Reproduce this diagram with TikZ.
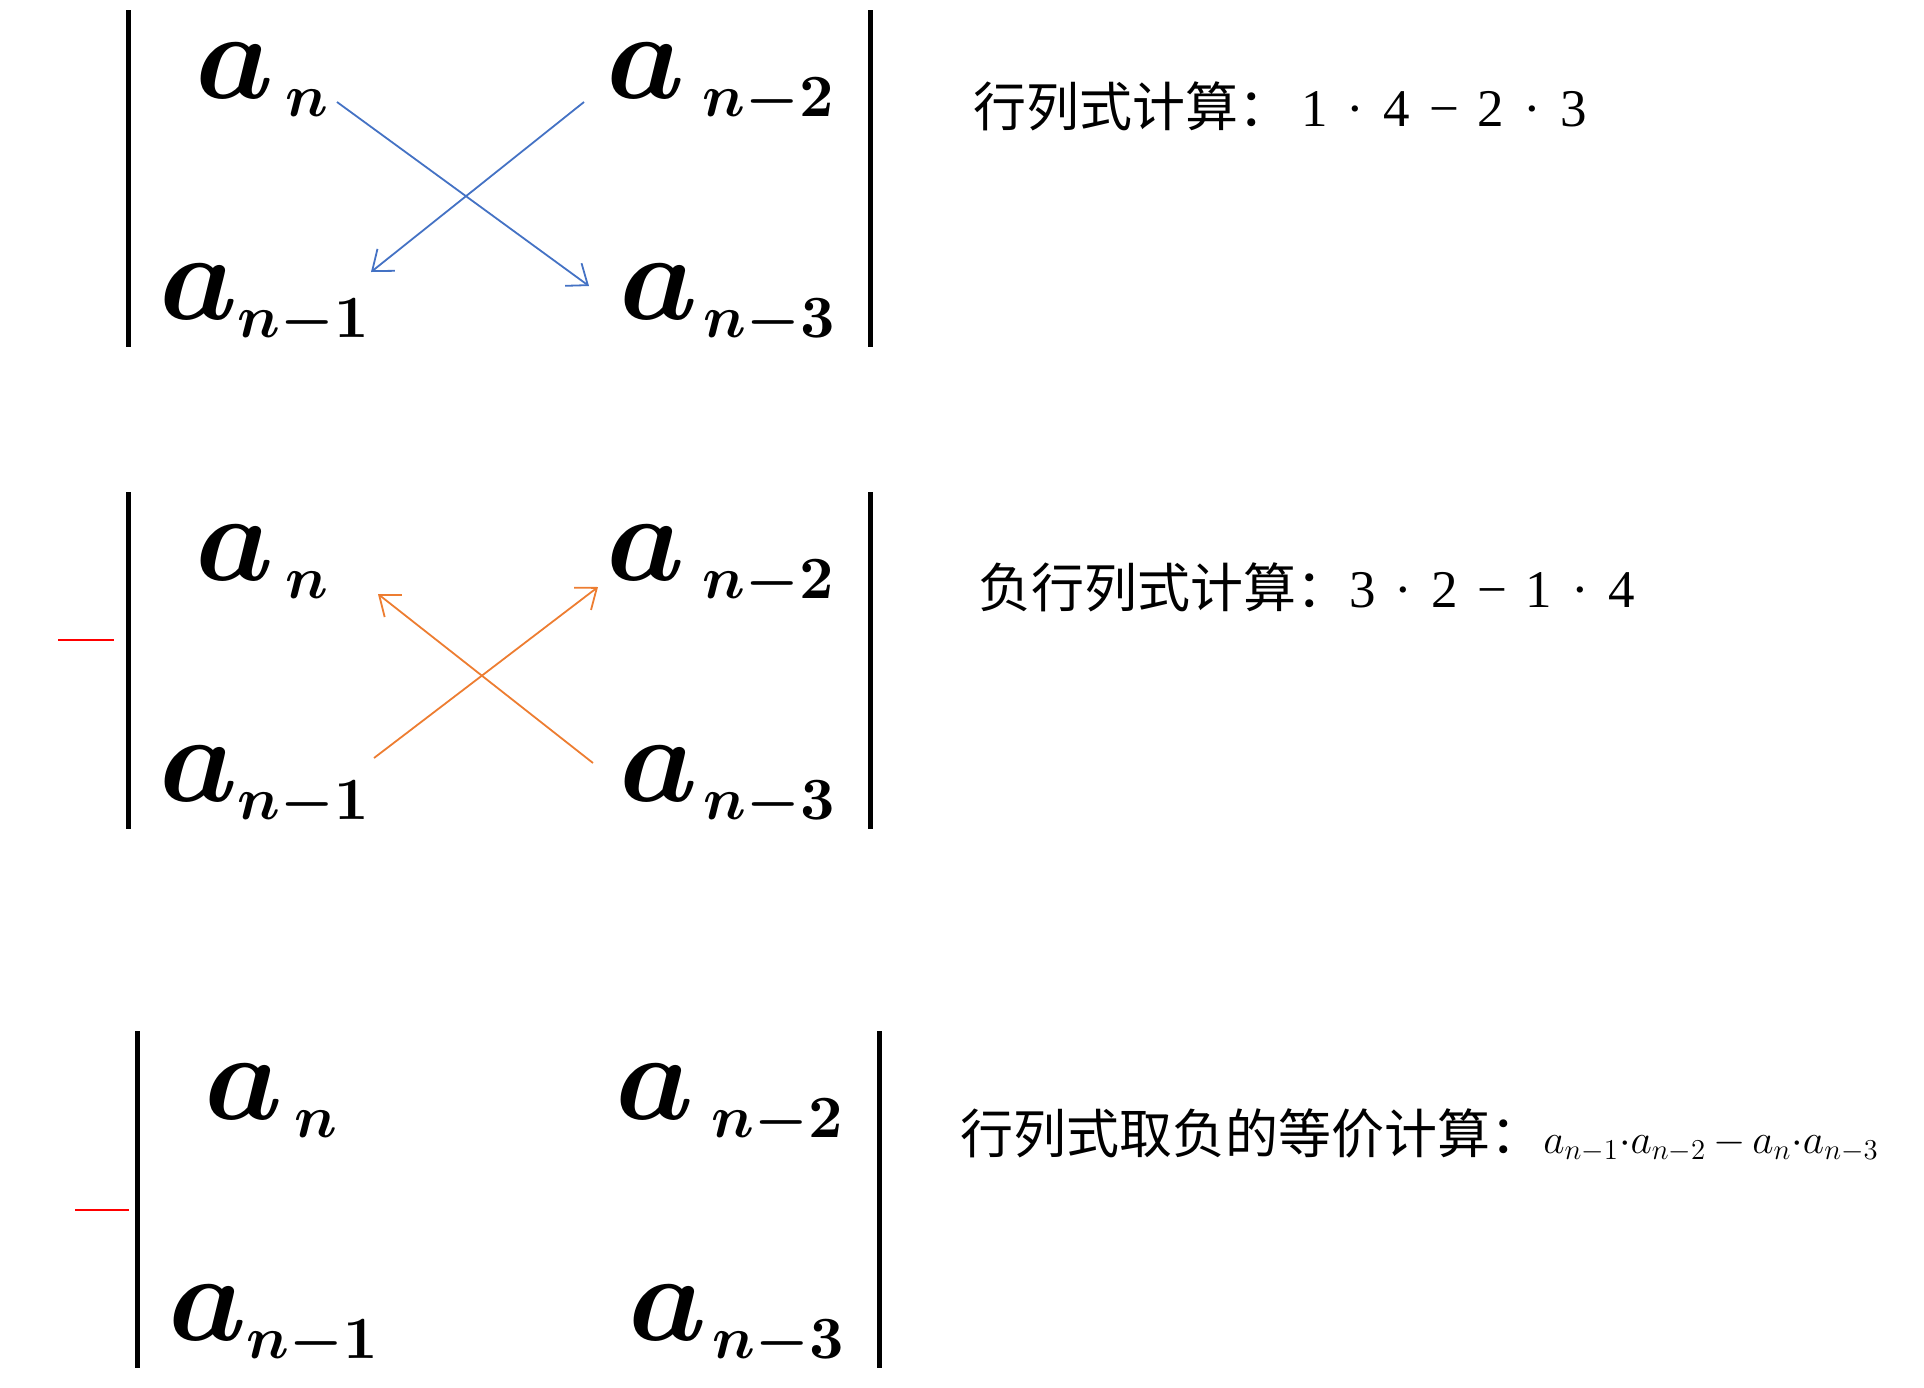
\documentclass[tikz,border=0pt]{standalone}
\usepackage[no-math]{fontspec}
\usepackage{bm}
\setmainfont{Liberation Serif}
\newfontfamily\cjk{Noto Sans CJK SC}
\usetikzlibrary{arrows.meta}

\definecolor{arrowblue}{RGB}{68,114,196}
\definecolor{arroworange}{RGB}{237,125,49}

\newcommand{\gap}{\hspace{9.5pt}}
\newcommand{\idx}[1]{_{\mbox{\fontsize{10}{12}\selectfont$\bm{#1}$}}}

\begin{document}
\begin{tikzpicture}[
    x=0.5pt,
    y=-0.5pt,
    bar/.style={
        draw=black,
        line width=2.5pt
    },
    entry/.style={
        anchor=base west,
        inner sep=0pt,
        font=\fontsize{20}{24}\selectfont,
        scale=3
    },
    sign/.style={
        draw=red,
        line width=1.2pt
    },
    cross/.style={
        line width=0.9pt,
        -{Straight Barb[length=9pt,width=14pt]}
    },
    rule/.style={
        anchor=base west,
        inner sep=0pt,
        font=\fontsize{26.5}{32}\selectfont
    }
]
\useasboundingbox (0,0) rectangle (1924,1388);

% The three determinants, same entries, shifted down the page
\foreach \m/\dx/\dy in {t/0/0, m/0/482, b/9/1021}{
    \begin{scope}[shift={(\dx,\dy)}]
        \draw[bar] (128,10) -- (128,347);
        \draw[bar] (870,10) -- (870,347);

        \node[entry] (\m-an)  at (194,98)  {$\bm{a}\hspace{2pt}\idx{n}$};
        \node[entry] (\m-an2) at (605,98)  {$\bm{a}\hspace{3pt}\idx{n{-}2}$};
        \node[entry] (\m-an1) at (158,319) {$\bm{a}\idx{n{-}1}$};
        \node[entry] (\m-an3) at (618,319) {$\bm{a}\hspace{1pt}\idx{n{-}3}$};
    \end{scope}
}

% Minus signs in front of the lower two
\draw[sign] (58,640) -- (114,640);
\draw[sign] (75,1210) -- (129,1210);

% Cross products, top: downward
\draw[cross, arrowblue]
    ([shift={(143,4)}]t-an.base west) -- ([shift={(-29,-33)}]t-an3.base west);
\draw[cross, arrowblue]
    ([shift={(-21,4)}]t-an2.base west) -- ([shift={(213,-47)}]t-an1.base west);

% Cross products, middle: upward
\draw[cross, arroworange]
    ([shift={(216,-43)}]m-an1.base west) -- ([shift={(-7,7)}]m-an2.base west);
\draw[cross, arroworange]
    ([shift={(-25,-38)}]m-an3.base west) -- ([shift={(184,14)}]m-an.base west);

% Texts on the right
\node[rule] (txt1) at (973,126)
    {{\cjk 行列式计算：}\hspace{5pt}1\gap·\gap4\gap−\gap2\gap·\gap3};
\node[rule] (txt2) at (978,607)
    {{\cjk 负行列式计算：}3\gap·\gap2\gap−\gap1\gap·\gap4};
\node[rule] (txt3) at (960,1153)
    {{\cjk 行列式取负的等价计算：}\fontsize{22}{27}\selectfont
     $a_{n-1}{\cdot}a_{n-2}\,{-}\,a_n{\cdot}a_{n-3}$};
\end{tikzpicture}
\end{document}
